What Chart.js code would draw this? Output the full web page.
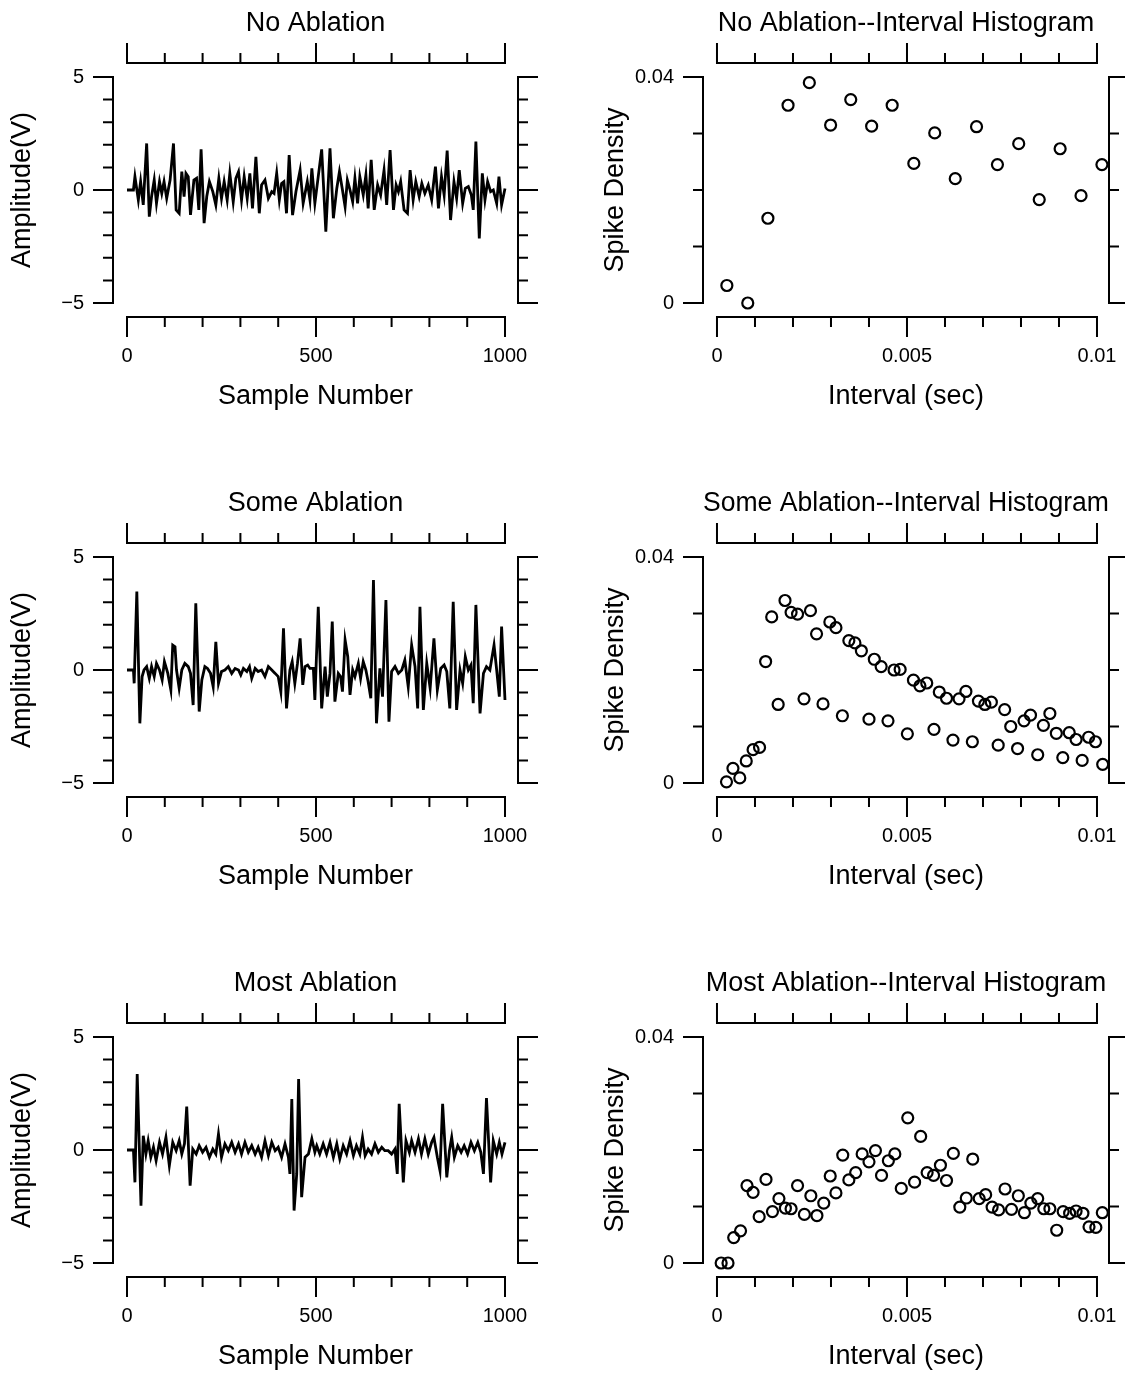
<!DOCTYPE html>
<html>
<head>
<meta charset="utf-8">
<title>Ablation recordings</title>
<script src="https://cdn.jsdelivr.net/npm/chart.js@4.4.1/dist/chart.umd.min.js"></script>
<style>
    html, body { margin: 0; padding: 0; background: #fff; }
    body { width: 1125px; height: 1374px; position: relative; overflow: hidden; }
    .panel { position: absolute; }
    .panel canvas { display: block; }
</style>
</head>
<body>
<div class="panel" style="left:0;top:0"><canvas id="wave1" width="562" height="413"></canvas></div>
<div class="panel" style="left:562px;top:0"><canvas id="isi1" width="563" height="413"></canvas></div>
<div class="panel" style="left:0;top:480px"><canvas id="wave2" width="562" height="413"></canvas></div>
<div class="panel" style="left:562px;top:480px"><canvas id="isi2" width="563" height="413"></canvas></div>
<div class="panel" style="left:0;top:960px"><canvas id="wave3" width="562" height="413"></canvas></div>
<div class="panel" style="left:562px;top:960px"><canvas id="isi3" width="563" height="413"></canvas></div>
<script>
// ---- data ----
const noAblSamples = [0,17,21,30,36,43,52,59,65,72,78,86,92,98,105,114,123,130,138,145,151,156,162,168,177,184,190,196,204,211,218,227,235,243,250,257,265,272,281,288,295,303,310,318,325,332,341,350,356,365,374,383,389,396,403,409,415,422,429,438,447,458,466,477,484,489,497,
    515,526,537,546,555,562,570,577,583,590,597,603,610,616,625,632,638,646,654,663,671,680,687,696,705,712,718,724,733,742,749,757,764,773,780,788,797,806,816,824,832,839,847,856,865,872,879,888,895,903,911,916,923,932,940,947,954,962,969,978,984,991,1000];
const noAblAmp = [0,0,0.59,-0.44,0.37,-0.66,2.06,-1.18,-0.29,0.44,-0.59,0.37,-0.15,0.37,-0.37,0.44,2.06,-0.88,-1.03,0.81,-0.29,0.74,0.59,-1.1,0.44,0.52,-0.88,1.8,-1.47,-0.29,0.37,-0.07,-0.66,0.52,-0.37,0.37,-0.44,0.74,-0.52,0.52,0.81,-0.44,0.59,-0.37,0.74,-0.81,1.47,-1.03,0.22,0.44,-0.37,-0.07,-0.15,0.74,-0.44,0.29,0.37,-1.03,1.55,-1.11,-0.07,0.88,-0.59,0.37,-0.44,0.96,-0.59,
    1.8,-1.84,1.84,-1.25,0.07,0.81,0,-0.74,0.44,0,-0.52,0.52,-0.59,0.59,-0.22,0.66,-0.81,1.33,-0.88,0.22,-0.22,0.88,-0.66,1.77,-0.88,0.22,-0.07,0.37,-0.88,-1.03,0.88,-0.44,0.37,-0.29,0.29,-0.15,0.22,-0.44,1.03,-0.81,0.59,-0.22,1.74,-1.33,0.37,-0.37,0.88,-0.59,0.07,0.15,-0.22,-0.88,2.14,-2.14,0.74,-0.44,0.37,-0.07,0,-0.59,0.59,-0.66,0.07];

const someAblSamples = [0,17,19,26,34,40,45,52,59,65,72,78,86,93,99,108,116,121,127,131,138,145,153,162,168,175,182,191,198,206,213,221,228,235,242,250,259,268,277,286,295,301,308,317,324,330,339,347,356,365,374,383,392,400,407,414,422,431,437,444,451,458,465,471,478,484,
    493,497,506,515,524,530,537,543,550,559,565,570,577,584,590,597,603,612,618,625,632,638,645,652,660,669,676,685,693,700,709,718,727,735,744,753,762,769,775,784,793,802,812,821,830,839,846,854,863,872,881,888,895,903,910,916,923,934,943,951,960,971,978,985,991,1000];
const someAblAmp = [0,0,-0.59,3.47,-2.36,-0.29,0,0.15,-0.37,0.15,-0.29,0.29,0,-0.44,0.37,-0.15,-0.88,1.1,1.03,0,-0.81,0,0.29,0.15,-0.15,-1.55,2.95,-1.84,-0.44,0.15,0.07,-0.15,-0.74,1.25,-0.59,-0.07,0,0.15,-0.15,0.07,0,-0.22,0.07,-0.07,0.15,-0.37,0.07,-0.07,0,-0.29,0.15,0,-0.15,-0.29,-0.96,1.84,-1.7,0,0.37,-0.59,0.29,1.4,-0.66,0.15,0.22,0.07,
    0.07,-1.33,2.8,-1.7,0.15,-1.18,-0.15,2.14,-1.4,-0.15,-0.29,-0.96,1.33,0.59,-1.1,0,-0.29,0.29,-0.37,0.37,0,-0.52,-1.25,3.98,-2.36,0.07,-1.18,3.1,-2.29,-0.07,0.15,-0.15,0,0.44,-0.74,1.1,0.15,-1.7,2.8,-1.77,0.29,-0.81,1.4,-0.88,0.07,0.22,-0.07,-1.7,3.02,-1.77,0,-0.59,0.59,0,0.22,-1.47,2.88,-1.92,-0.15,0.15,0,1.1,0,-1.18,1.92,-1.33];

const mostAblSamples = [0,17,21,27,37,43,50,56,63,70,77,86,94,103,112,121,130,138,145,152,158,167,174,183,191,200,209,218,227,235,242,250,259,268,277,286,295,303,312,321,330,339,347,356,365,374,383,392,400,409,418,427,431,436,442,449,454,462,471,480,489,
    497,502,510,519,528,537,546,555,563,572,581,590,599,607,616,623,630,638,647,656,665,674,682,691,700,709,715,720,731,738,747,753,762,771,779,788,797,806,812,821,828,835,846,853,859,866,875,884,892,901,910,919,928,936,943,951,962,969,978,985,992,1000];
const mostAblAmp = [0,0,-1.43,3.36,-2.46,0.63,-0.18,0.41,-0.32,0.12,-0.47,0.34,-0.18,0.56,-0.69,0.34,-0.03,0.41,-0.18,0.27,1.92,-1.58,0.04,-0.18,0.19,-0.1,0.12,-0.32,0.04,-0.18,0.71,-0.32,0.27,-0.03,0.34,-0.1,0.27,-0.18,0.34,-0.1,0.19,-0.18,0.12,-0.32,0.41,-0.25,0.34,-0.03,0.12,-0.32,0.27,-0.32,-1.06,2.26,-2.68,-1.06,3.14,-2.09,-0.32,-0.18,0.49,
    -0.1,0.19,-0.18,0.27,-0.18,0.34,-0.32,0.27,-0.4,0.19,-0.18,0.41,-0.25,0.19,-0.18,0.56,-0.25,0.04,-0.18,0.27,-0.1,0.12,-0.03,-0.03,-0.18,0.04,-1.06,2.04,-1.43,0.41,-0.1,0.41,-0.1,0.49,-0.18,0.49,-0.18,0.34,0.56,-0.32,-0.91,2.04,-1.21,-0.03,0.56,-0.32,0.19,-0.1,0.19,-0.18,0.34,-0.03,0.34,-0.1,-1.06,2.3,-1.43,0.41,-0.18,0.34,-0.18,0.34];

// interval histograms (sec, density)
const noAblIsiX = [0.00026,0.00081,0.00134,0.00187,0.00243,0.00299,0.00352,0.00407,0.00461,0.00518,0.00573,0.00627,0.00683,0.00738,0.00794,0.00848,0.00903,0.00958,0.01013];
const noAblIsiY = [0.0031,0.0000,0.0150,0.0350,0.0390,0.0315,0.0360,0.0313,0.0350,0.0247,0.0301,0.0220,0.0312,0.0245,0.0282,0.0183,0.0273,0.0190,0.0245];

const someAblIsiX = [0.00025,0.00042,0.00060,0.00077,0.00095,0.00112,0.00128,0.00144,0.00179,0.00195,0.00212,0.00246,0.00262,0.00297,0.00313,0.00347,0.00363,0.00380,0.00414,0.00432,0.00466,0.00482,0.00517,0.00534,0.00552,0.00585,0.00604,0.00637,0.00655,0.00688,0.00705,0.00722,0.00757,0.00773,0.00808,0.00825,0.00859,0.00876,0.00893,0.00927,0.00945,0.00978,0.00996,
    0.00161,0.00229,0.00279,0.00330,0.00400,0.00450,0.00501,0.00571,0.00621,0.00672,0.00740,0.00791,0.00844,0.00910,0.00961,0.01015];
const someAblIsiY = [0.0002,0.0026,0.0009,0.0039,0.0059,0.0063,0.0215,0.0294,0.0323,0.0302,0.0299,0.0305,0.0264,0.0285,0.0275,0.0252,0.0248,0.0234,0.0219,0.0206,0.0200,0.0201,0.0182,0.0172,0.0177,0.0161,0.0150,0.0149,0.0162,0.0145,0.0139,0.0143,0.0130,0.0100,0.0110,0.0120,0.0102,0.0123,0.0088,0.0089,0.0077,0.0081,0.0073,
    0.0139,0.0149,0.0140,0.0119,0.0113,0.0110,0.0087,0.0095,0.0076,0.0073,0.0067,0.0061,0.0050,0.0045,0.0040,0.0033];

const mostAblIsiX = [0.00011,0.00029,0.00044,0.00062,0.00079,0.00095,0.00111,0.00129,0.00146,0.00163,0.00180,0.00195,0.00212,0.00230,0.00247,0.00263,0.00281,0.00298,0.00313,0.00331,0.00347,0.00365,0.00382,0.00400,0.00417,0.00433,0.00451,0.00468,0.00485,0.00502,
    0.00520,0.00536,0.00553,0.00570,0.00588,0.00604,0.00622,0.00639,0.00656,0.00673,0.00690,0.00707,0.00724,0.00741,0.00758,0.00775,0.00793,0.00809,0.00826,0.00844,0.00860,0.00876,0.00894,0.00911,0.00928,0.00945,0.00963,0.00979,0.00997,0.01014];
const mostAblIsiY = [0.0000,0.0000,0.0045,0.0057,0.0137,0.0125,0.0082,0.0148,0.0091,0.0114,0.0097,0.0096,0.0137,0.0086,0.0119,0.0084,0.0106,0.0154,0.0124,0.0191,0.0147,0.0160,0.0193,0.0179,0.0199,0.0155,0.0181,0.0193,0.0132,0.0257,
    0.0143,0.0224,0.0160,0.0155,0.0173,0.0146,0.0194,0.0099,0.0115,0.0184,0.0114,0.0121,0.0099,0.0094,0.0131,0.0095,0.0119,0.0089,0.0106,0.0114,0.0096,0.0096,0.0058,0.0091,0.0088,0.0092,0.0088,0.0064,0.0063,0.0089];

// tick values
const waveXMajor = [0, 500, 1000];
const waveXMinor = [100, 200, 300, 400, 600, 700, 800, 900];
const waveYMajor = [-5, 0, 5];
const waveYMinor = [-4, -3, -2, -1, 1, 2, 3, 4];
const isiXMajor = [0, 0.005, 0.01];
const isiXMinor = [0.001, 0.002, 0.003, 0.004, 0.006, 0.007, 0.008, 0.009];
const isiYMajor = [0, 0.04];
const isiYMinor = [0.01, 0.02, 0.03];

Chart.defaults.font.family = "'Liberation Sans', Arial, Helvetica, sans-serif";
Chart.defaults.color = '#000';

const TICK_FONT = 20;
const TITLE_FONT = 27;
const MAJOR_LEN = 19;
const MINOR_LEN = 9;

// Igor-style axes: lines only span the tick range and sit off the data box
const detachedAxes = {
    id: 'detachedAxes',
    afterDraw(chart, args, opts) {
        const { ctx, chartArea: a, scales: { x, y } } = chart;
        const xa = x.getPixelForValue(opts.xMajor[0]);
        const xb = x.getPixelForValue(opts.xMajor[opts.xMajor.length - 1]);
        const ya = y.getPixelForValue(opts.yMajor[0]);
        const yb = y.getPixelForValue(opts.yMajor[opts.yMajor.length - 1]);
        ctx.save();
        ctx.strokeStyle = '#000';
        ctx.lineWidth = 2;
        ctx.lineCap = 'square';
        ctx.beginPath();
        // bottom (ticks down) and top (ticks up)
        [[a.bottom, 1], [a.top, -1]].forEach(([yy, dir]) => {
            ctx.moveTo(xa, yy);
            ctx.lineTo(xb, yy);
            opts.xMajor.forEach(v => {
                const px = x.getPixelForValue(v);
                ctx.moveTo(px, yy);
                ctx.lineTo(px, yy + dir * MAJOR_LEN);
            });
            opts.xMinor.forEach(v => {
                const px = x.getPixelForValue(v);
                ctx.moveTo(px, yy);
                ctx.lineTo(px, yy + dir * MINOR_LEN);
            });
        });
        // left (ticks left) and right (ticks right)
        [[a.left, -1], [a.right, 1]].forEach(([xx, dir]) => {
            ctx.moveTo(xx, ya);
            ctx.lineTo(xx, yb);
            opts.yMajor.forEach(v => {
                const py = y.getPixelForValue(v);
                ctx.moveTo(xx, py);
                ctx.lineTo(xx + dir * MAJOR_LEN, py);
            });
            opts.yMinor.forEach(v => {
                const py = y.getPixelForValue(v);
                ctx.moveTo(xx, py);
                ctx.lineTo(xx + dir * MINOR_LEN, py);
            });
        });
        ctx.stroke();
        ctx.restore();
    }
};

function fmtSigned(v) {
    return v < 0 ? '\u2212' + Math.abs(v) : String(v);
}

function makePanel(id, cfg) {
    new Chart(document.getElementById(id), {
        type: 'scatter',
        data: { datasets: [cfg.dataset] },
        options: {
            responsive: false,
            animation: false,
            events: [],
            layout: { padding: { top: 0, left: 0, bottom: 0, right: cfg.rightPad } },
            scales: {
                x: {
                    type: 'linear',
                    min: cfg.xRange[0],
                    max: cfg.xRange[1],
                    afterBuildTicks: s => { s.ticks = cfg.xMajor.map(v => ({ value: v })); },
                    afterFit: s => { s.height = 96; },
                    // hidden tick marks only reserve room so the labels sit below the axis
                    grid: { display: false, drawTicks: true, tickLength: 25 },
                    border: { display: false },
                    ticks: { padding: 2, autoSkip: false, maxRotation: 0, font: { size: TICK_FONT }, callback: v => fmtSigned(v) },
                    title: { display: true, text: cfg.xTitle, font: { size: TITLE_FONT }, padding: { top: 0.8, bottom: 0 } }
                },
                y: {
                    type: 'linear',
                    min: cfg.yRange[0],
                    max: cfg.yRange[1],
                    afterBuildTicks: s => { s.ticks = cfg.yMajor.map(v => ({ value: v })); },
                    afterFit: s => { s.width = cfg.leftWidth; },
                    grid: { display: false, drawTicks: true, tickLength: 27 },
                    border: { display: false },
                    ticks: { padding: 2, autoSkip: false, font: { size: TICK_FONT }, callback: v => fmtSigned(v) },
                    title: { display: true, text: cfg.yTitle, font: { size: TITLE_FONT }, padding: { top: cfg.yTitlePad, bottom: 0 } }
                }
            },
            plugins: {
                legend: { display: false },
                tooltip: { enabled: false },
                title: {
                    display: true,
                    text: cfg.title,
                    fullSize: false,
                    color: '#000',
                    font: { size: TITLE_FONT, weight: 'normal' },
                    padding: { top: 7.4, bottom: 23.2 }
                },
                detachedAxes: { xMajor: cfg.xMajor, xMinor: cfg.xMinor, yMajor: cfg.yMajor, yMinor: cfg.yMinor }
            }
        },
        plugins: [detachedAxes]
    });
}

function waveDataset(samples, amps) {
    return {
        data: samples.map((s, i) => ({ x: s, y: amps[i] })),
        showLine: true,
        borderColor: '#000',
        borderWidth: 2.8,
        pointRadius: 0,
        tension: 0
    };
}

function isiDataset(xs, ys) {
    return {
        data: xs.map((v, i) => ({ x: v, y: ys[i] })),
        showLine: false,
        pointStyle: 'circle',
        pointRadius: 5.5,
        borderWidth: 2.2,
        borderColor: '#000',
        backgroundColor: 'rgba(0,0,0,0)',
        clip: false
    };
}

const waveBase = {
    xTitle: 'Sample Number', yTitle: 'Amplitude(V)',
    xRange: [-37.04, 1034.4], yRange: [-5.62, 5.62],
    xMajor: waveXMajor, xMinor: waveXMinor, yMajor: waveYMajor, yMinor: waveYMinor,
    leftWidth: 113, rightPad: 44, yTitlePad: 6.8
};
const isiBase = {
    xTitle: 'Interval (sec)', yTitle: 'Spike Density',
    xRange: [-0.000368, 0.010316], yRange: [-0.002478, 0.042478],
    xMajor: isiXMajor, xMinor: isiXMinor, yMajor: isiYMajor, yMinor: isiYMinor,
    leftWidth: 141, rightPad: 16, yTitlePad: 37.8
};

makePanel('wave1', Object.assign({}, waveBase, { title: 'No Ablation', dataset: waveDataset(noAblSamples, noAblAmp) }));
makePanel('wave2', Object.assign({}, waveBase, { title: 'Some Ablation', dataset: waveDataset(someAblSamples, someAblAmp) }));
makePanel('wave3', Object.assign({}, waveBase, { title: 'Most Ablation', dataset: waveDataset(mostAblSamples, mostAblAmp) }));
makePanel('isi1', Object.assign({}, isiBase, { title: 'No Ablation--Interval Histogram', dataset: isiDataset(noAblIsiX, noAblIsiY) }));
makePanel('isi2', Object.assign({}, isiBase, { title: 'Some Ablation--Interval Histogram', dataset: isiDataset(someAblIsiX, someAblIsiY) }));
makePanel('isi3', Object.assign({}, isiBase, { title: 'Most Ablation--Interval Histogram', dataset: isiDataset(mostAblIsiX, mostAblIsiY) }));
</script>
</body>
</html>
